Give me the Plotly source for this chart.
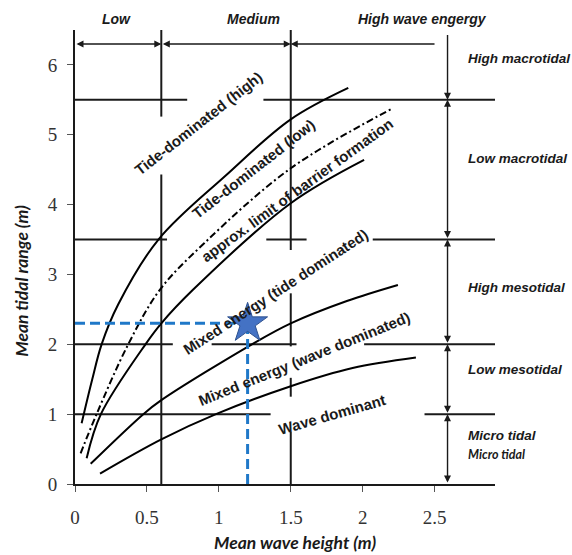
import plotly.graph_objects as go

# ---------------- data ----------------
# class boundaries
wave_bounds = [0.6, 1.5]          # low / medium / high wave energy (m)
tidal_bounds = [0, 1, 2, 3.5, 5.5]  # micro / low meso / high meso / low macro / high macro

# visible pieces of the boundary lines (start, end)
v_06_segments = [(5.26, 6.5), (0, 4.43)]
v_15_segments = [(3.35, 6.5), (1.97, 2.73), (1.25, 1.52), (0, 0.75)]
h_55_segments = [(0, 0.78), (1.31, 2.92)]
h_35_segments = [(0, 0.64), (1.33, 1.61), (2.07, 2.92)]
h_20_segments = [(0, 0.68), (0.95, 1.54), (2.01, 2.92)]
h_10_segments = [(0, 1.36), (2.43, 2.92)]

# regime boundary curves
tide_high_x = [0.046, 0.12, 0.185, 0.3, 0.58, 1.05, 1.5, 1.9]
tide_high_y = [0.87, 1.5, 2.0, 2.57, 3.5, 4.42, 5.22, 5.67]
barrier_x = [0.039, 0.15, 0.37, 0.59, 0.9, 1.5, 2.2]
barrier_y = [0.44, 1.0, 2.0, 2.78, 3.45, 4.52, 5.37]
tide_low_x = [0.081, 0.18, 0.49, 0.6, 0.82, 1.5, 2.01]
tide_low_y = [0.37, 1.0, 2.0, 2.3, 2.78, 4.02, 4.64]
mixed_tide_x = [0.109, 0.475, 0.6, 1.23, 1.5, 1.89, 2.245]
mixed_tide_y = [0.29, 1.0, 1.2, 2.0, 2.30, 2.62, 2.85]
mixed_wave_x = [0.174, 0.6, 0.98, 1.5, 1.93, 2.37]
mixed_wave_y = [0.15, 0.64, 1.0, 1.40, 1.66, 1.81]

# site
site_x = [1.2]
site_y = [2.3]

# labels
x_ticks = [0, 0.5, 1, 1.5, 2, 2.5]
y_ticks = [0, 1, 2, 3, 4, 5, 6]
curve_labels = [
    ("Tide-dominated (high)", 0.856, 5.16, -38),
    ("Tide-dominated (low)", 1.243, 4.52, -38),
    ("approx. limit of barrier formation", 1.549, 4.21, -36),
    ("Mixed energy (tide dominated)", 1.396, 2.76, -33),
    ("Mixed energy (wave dominated)", 1.597, 1.79, -22),
    ("Wave dominant", 1.785, 0.99, -16),
]
wave_class_labels = [("Low", 0.0999), ("Medium", 0.4257), ("High wave engergy", 0.8276)]
tidal_class_labels = [("High macrotidal", 6.09), ("Low macrotidal", 4.66),
                      ("High mesotidal", 2.81), ("Low mesotidal", 1.64),
                      ("Micro tidal", 0.69)]

# ---------------- figure ----------------
LINE = "#1a1a1a"
fig = go.Figure()

shapes = []
for (a, b) in v_06_segments:
    shapes.append(dict(type="line", x0=wave_bounds[0], x1=wave_bounds[0], y0=a, y1=b))
for (a, b) in v_15_segments:
    shapes.append(dict(type="line", x0=wave_bounds[1], x1=wave_bounds[1], y0=a, y1=b))
for yv, segs in [(tidal_bounds[4], h_55_segments), (tidal_bounds[3], h_35_segments),
                 (tidal_bounds[2], h_20_segments), (tidal_bounds[1], h_10_segments)]:
    for (a, b) in segs:
        shapes.append(dict(type="line", x0=a, x1=b, y0=yv, y1=yv))
for s in shapes:
    s.update(xref="x", yref="y", layer="below", line=dict(color=LINE, width=2))

curve_style = dict(mode="lines", line=dict(color="black", width=2, shape="spline", smoothing=1.0),
                   hoverinfo="skip", showlegend=False)
fig.add_trace(go.Scatter(x=tide_high_x, y=tide_high_y, **curve_style))
fig.add_trace(go.Scatter(x=tide_low_x, y=tide_low_y, **curve_style))
fig.add_trace(go.Scatter(x=mixed_tide_x, y=mixed_tide_y, **curve_style))
fig.add_trace(go.Scatter(x=mixed_wave_x, y=mixed_wave_y, **curve_style))
fig.add_trace(go.Scatter(x=barrier_x, y=barrier_y, mode="lines",
                         line=dict(color="black", width=2, dash="7px,3px,2px,3px",
                                   shape="spline", smoothing=1.0),
                         hoverinfo="skip", showlegend=False))

BLUE = "#1f78c8"
fig.add_trace(go.Scatter(x=[0, site_x[0]], y=[site_y[0], site_y[0]], mode="lines",
                         line=dict(color=BLUE, width=3, dash="10px,5px"),
                         hoverinfo="skip", showlegend=False))
fig.add_trace(go.Scatter(x=[site_x[0], site_x[0]], y=[0, site_y[0]], mode="lines",
                         line=dict(color=BLUE, width=3, dash="10px,5px"),
                         hoverinfo="skip", showlegend=False))
fig.add_trace(go.Scatter(x=site_x, y=site_y, mode="markers",
                         marker=dict(symbol="star", size=30, color="#4472C4",
                                     line=dict(color="#2F528F", width=1)),
                         showlegend=False))

ann = []
# curve labels
for t, x, y, ang in curve_labels:
    ann.append(dict(text="<b>" + t + "</b>", x=x, y=y, xref="x", yref="y", showarrow=False,
                    textangle=ang, xanchor="center", yanchor="middle",
                    font=dict(family="Liberation Sans, Arial", size=15, color="#1a1a1a")))
# wave class labels on top
for t, px in wave_class_labels:
    ann.append(dict(text="<b><i>" + t + "</i></b>", x=px, y=1.025, xref="paper", yref="paper",
                    xanchor="center", yanchor="middle", showarrow=False,
                    font=dict(family="Liberation Sans, Arial", size=14, color="#1a1a1a")))
# tidal class labels on the right
for t, y in tidal_class_labels:
    ann.append(dict(text="<b><i>" + t + "</i></b>", x=0.93, y=y, xref="paper", yref="y",
                    xanchor="left", yanchor="middle", showarrow=False,
                    font=dict(family="Liberation Sans, Arial", size=13.5, color="#1a1a1a")))
ann.append(dict(text="<b><i>Micro tidal</i></b>", x=0.93, y=0.42, xref="paper", yref="y",
                xanchor="left", yanchor="middle", showarrow=False,
                font=dict(family="Lato, Liberation Sans", size=12.5, color="#1a1a1a")))

# arrows
arrow_base = dict(text="", xref="x", yref="y", axref="x", ayref="y", showarrow=True,
                  arrowhead=2, arrowsize=1, arrowwidth=1.4, arrowcolor="#1a1a1a",
                  standoff=0, startstandoff=0)
ytop = 6.3
edges = [0] + wave_bounds
for i in range(len(edges) - 1):
    ann.append(dict(arrow_base, x=edges[i + 1], y=ytop, ax=edges[i], ay=ytop,
                    arrowside="end+start", startarrowhead=2))
ann.append(dict(arrow_base, x=wave_bounds[1], y=ytop, ax=2.51, ay=ytop))
xr = 2.59
ann.append(dict(arrow_base, x=xr, y=tidal_bounds[4], ax=xr, ay=6.45))
for i in range(len(tidal_bounds) - 1):
    ann.append(dict(arrow_base, x=xr, y=tidal_bounds[i + 1], ax=xr, ay=tidal_bounds[i],
                    arrowside="end+start", startarrowhead=2))

# axis titles
ann.append(dict(text="<b><i>Mean wave height (m)</i></b>", x=0.524, y=-0.128, xref="paper",
                yref="paper", xanchor="center", yanchor="middle", showarrow=False,
                font=dict(family="Lato, Liberation Sans", size=17.5, color="#1a1a1a")))
ann.append(dict(text="<b><i>Mean tidal range (m)</i></b>", x=-0.126, y=0.448, xref="paper",
                yref="paper", xanchor="center", yanchor="middle", showarrow=False, textangle=-90,
                font=dict(family="Lato, Liberation Sans", size=17.5, color="#1a1a1a")))

fig.update_layout(
    width=572, height=555,
    margin=dict(l=75, r=76.5, t=29.5, b=70.5),
    paper_bgcolor="white", plot_bgcolor="white",
    shapes=shapes, annotations=ann, showlegend=False,
    xaxis=dict(range=[0, 2.92], tickvals=x_ticks, ticktext=[str(v) for v in x_ticks],
               showgrid=False, zeroline=False, showline=True, linecolor=LINE, linewidth=2,
               ticks="outside", ticklen=6, tickcolor="#555", tickwidth=1,
               tickfont=dict(family="Liberation Serif, Times New Roman", size=19, color="#333"),
               ticklabelstandoff=9),
    yaxis=dict(range=[0, 6.5], tickvals=y_ticks,
               showgrid=False, zeroline=False, showline=True, linecolor=LINE, linewidth=2,
               ticks="outside", ticklen=6, tickcolor="#555", tickwidth=1,
               tickfont=dict(family="Liberation Serif, Times New Roman", size=19, color="#333"),
               ticklabelstandoff=6),
)

fig.write_html("out.html")
